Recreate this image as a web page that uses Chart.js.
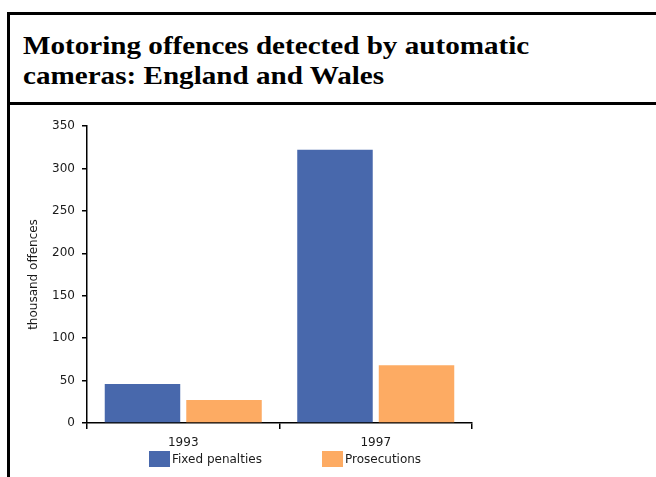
<!DOCTYPE html>
<html>
<head>
<meta charset="utf-8">
<script src="https://cdn.jsdelivr.net/npm/chart.js@4.4.1/dist/chart.umd.min.js"></script>
<style>
  html, body { margin: 0; padding: 0; background: #fff; width: 656px; height: 477px; overflow: hidden; }
  #frame { position: absolute; left: 7px; top: 12px; width: 700px; height: 500px;
           border-top: 3px solid #000; border-left: 3px solid #000; }
  #sep { position: absolute; left: 7px; top: 102px; width: 700px; height: 3px; background: #000; }
  #title { position: absolute; left: 23px; top: 31px; font-family: "Liberation Serif", "Times New Roman", serif;
           font-weight: bold; font-size: 26px; line-height: 30px; color: #000;
           transform: scaleX(1.12); transform-origin: left top; white-space: nowrap; }
  #wrap { position: absolute; left: 0; top: 104px; width: 656px; height: 373px; }
  .lg { position: absolute; font-family: "DejaVu Sans", sans-serif; font-size: 12px; color: #1a1a1a; line-height: 16px; }
  .sw { position: absolute; width: 21px; height: 16px; }
</style>
</head>
<body>
<div id="frame"></div>
<div id="sep"></div>
<div id="title">Motoring offences detected by automatic<br>cameras: England and Wales</div>
<div id="wrap"><canvas id="chart" width="656" height="373"></canvas></div>
<div id="legend"></div>
<script>
// data (thousand offences)
const years = ['1993', '1997'];
const fixedPenalties = [46, 322];
const prosecutions = [27, 68];
const yTicks = [0, 50, 100, 150, 200, 250, 300, 350];

const seriesNames = ['Fixed penalties', 'Prosecutions'];
const seriesColors = ['#4868ac', '#fdab63'];

const ctx = document.getElementById('chart');

new Chart(ctx, {
  type: 'bar',
  data: {
    labels: years,
    datasets: [
      { label: seriesNames[0], data: fixedPenalties, backgroundColor: seriesColors[0] },
      { label: seriesNames[1], data: prosecutions, backgroundColor: seriesColors[1] }
    ]
  },
  options: {
    responsive: false,
    animation: false,
    devicePixelRatio: 1,
    layout: { padding: { left: 0, right: 184, top: 22, bottom: 24 } },
    plugins: { legend: { display: false }, tooltip: { enabled: false } },
    datasets: { bar: { categoryPercentage: 0.847, barPercentage: 0.926 } },
    scales: {
      x: {
        offset: true,
        grid: { offset: true, drawOnChartArea: false, tickLength: 6, color: '#000', lineWidth: 1.5 },
        border: { color: '#000', width: 1.5 },
        ticks: { color: '#1a1a1a', padding: 7, font: { family: 'DejaVu Sans', size: 12 } },
        afterFit: (s) => { s.height = 30; }
      },
      y: {
        min: 0,
        max: 350,
        afterBuildTicks: (s) => { s.ticks = yTicks.map((v) => ({ value: v })); },
        grid: { drawOnChartArea: false, tickLength: 5, color: '#000', lineWidth: 1.5 },
        border: { color: '#000', width: 1.5 },
        ticks: { color: '#1a1a1a', padding: 7, font: { family: 'DejaVu Sans', size: 12 } },
        title: { display: true, text: 'thousand offences', color: '#1a1a1a', padding: { top: 27, bottom: 0 },
                 font: { family: 'DejaVu Sans', size: 12 } },
        afterFit: (s) => { s.width = 87; }
      }
    }
  }
});

// legend built from the series names and colours
const legendX = [149, 322];
const lg = document.getElementById('legend');
seriesNames.forEach((name, i) => {
  lg.insertAdjacentHTML('beforeend',
    `<div class="sw" style="left:${legendX[i]}px;top:451px;background:${seriesColors[i]}"></div>` +
    `<div class="lg" style="left:${legendX[i] + 23}px;top:451px">${name}</div>`);
});
</script>
</body>
</html>
